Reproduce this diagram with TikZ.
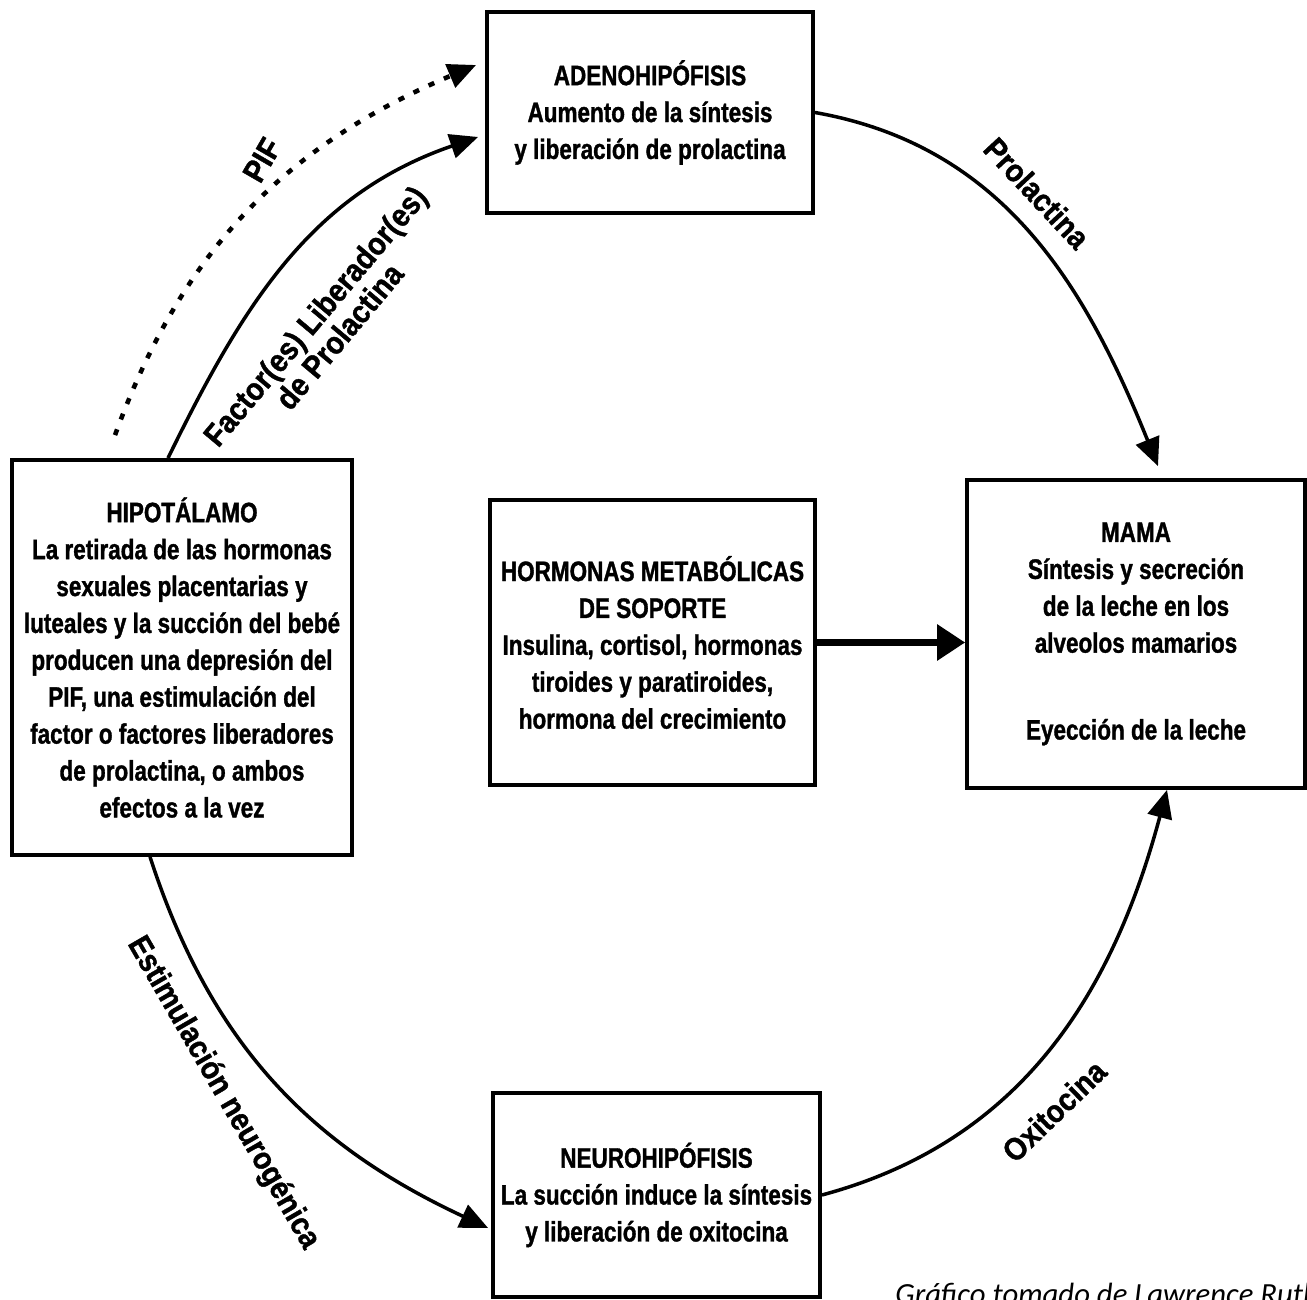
\documentclass[tikz,border=0pt]{standalone}
\usepackage{fontspec}
\usepackage{tikz}
\usetikzlibrary{arrows.meta}
\setmainfont{Liberation Sans}
\newfontfamily\boxfont[FakeStretch=0.8, BoldFeatures={FakeBold=1.2}]{Liberation Sans}
\newfontfamily\lblfont[FakeStretch=0.9, BoldFeatures={FakeBold=1.2}]{Liberation Sans}
\newfontfamily\capfont{Carlito}

\begin{document}
\begin{tikzpicture}[
    x=0.02cm, y=0.02cm,
    organ/.style={
        draw, line width=2.2pt, rectangle,
        inner sep=2pt, align=center,
        font=\boxfont\bfseries\fontsize{16pt}{21pt}\selectfont,
    },
    flow/.style={
        line width=2pt,
        -{Triangle[length=16pt, width=14pt]},
    },
    flowlabel/.style={
        font=\lblfont\bfseries\fontsize{18pt}{18pt}\selectfont,
        align=center, inner sep=0pt,
    },
]
\useasboundingbox (0,0) rectangle (1307,1299);
\clip (0,0) rectangle (1307,1299);

\node[organ, minimum width=6.52cm, minimum height=4.02cm] (adeno) at (650,1186.5) {%
    ADENOHIPÓFISIS\\
    Aumento de la síntesis\\
    y liberación de prolactina%
};

\node[organ, minimum width=6.8cm, minimum height=7.9cm] (hipo) at (182,641.5) {%
    HIPOTÁLAMO\\
    La retirada de las hormonas\\
    sexuales placentarias y\\
    luteales y la succión del bebé\\
    producen una depresión del\\
    PIF, una estimulación del\\
    factor o factores liberadores\\
    de prolactina, o ambos\\
    efectos a la vez%
};

\node[organ, minimum width=6.5cm, minimum height=5.7cm] (soporte) at (652.5,656.5) {%
    HORMONAS METABÓLICAS\\
    DE SOPORTE\\
    Insulina, cortisol, hormonas\\
    tiroides y paratiroides,\\
    hormona del crecimiento%
};

\node[organ, minimum width=6.76cm, minimum height=6.16cm] (mama) at (1136,665) {%
    MAMA\\
    Síntesis y secreción\\
    de la leche en los\\
    alveolos mamarios\\[1.0cm]
    Eyección de la leche%
};

\node[organ, minimum width=6.54cm, minimum height=4.08cm] (neuro) at (656.5,104) {%
    NEUROHIPÓFISIS\\
    La succión induce la síntesis\\
    y liberación de oxitocina%
};

% connectors
\draw[flow, line width=2.6pt, dash pattern=on 3.5pt off 6pt]
    ([xshift=-1.34cm, yshift=0.46cm]hipo.north) to[out=70, in=203]
    ([xshift=-0.18cm, yshift=0.95cm]adeno.west);
\draw[flow]
    ([xshift=-0.28cm]hipo.north) to[out=64, in=199]
    ([xshift=-0.14cm, yshift=-0.49cm]adeno.west);
\draw[flow]
    (adeno.east) to[out=-10, in=112]
    ([xshift=0.44cm, yshift=0.24cm]mama.north);
\draw[flow, line width=3.5pt, -{Triangle[length=16pt, width=20pt]}]
    (soporte.east) -- (soporte.east -| mama.west);
\draw[flow]
    (neuro.east) to[out=15, in=-105]
    ([xshift=0.62cm]mama.south);
\draw[flow]
    ([xshift=-0.64cm]hipo.south) to[out=-72, in=155]
    ([xshift=-0.06cm, yshift=-0.66cm]neuro.west);

% labels
\node[flowlabel, rotate=60] (lpif) at (262,1139) {PIF};
\node[flowlabel, rotate=50] (lfactor) at (327,973) {Factor(es) Liberador(es)\\de Prolactina};
\node[flowlabel, rotate=-47] (lprl) at (1037,1106) {Prolactina};
\node[flowlabel, rotate=44] (loxt) at (1054,188) {Oxitocina};
\node[flowlabel, rotate=-60] (lneuro) at (223,206) {Estimulación neurogénica};

\node[font=\capfont\itshape\fontsize{17.5pt}{17.5pt}\selectfont, anchor=base west, inner sep=0pt]
    (fuente) at (895,-5) {Gráfico tomado de Lawrence Ruth};

\end{tikzpicture}
\end{document}
